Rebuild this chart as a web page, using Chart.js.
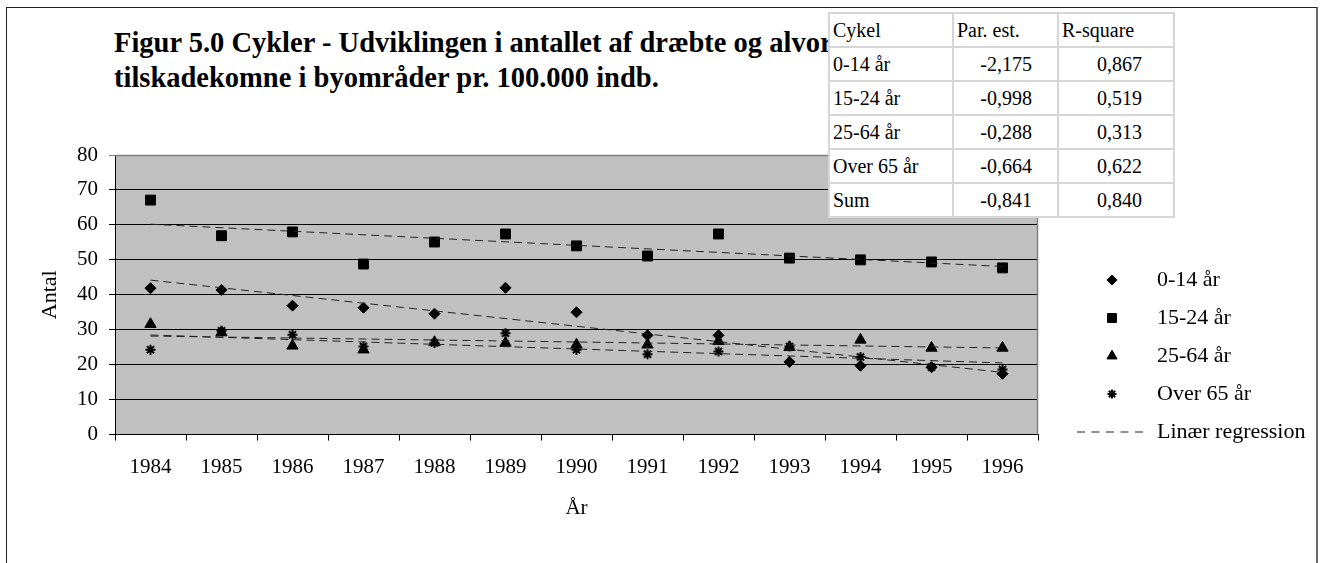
<!DOCTYPE html>
<html>
<head>
<meta charset="utf-8">
<script src="https://cdn.jsdelivr.net/npm/chart.js@4"></script>
<style>
  body { margin: 0; background: #fff; }
  #wrap { position: relative; width: 1322px; height: 563px; overflow: hidden; }
  #frame { position: absolute; left: 6px; top: 7px; width: 1309px; height: 600px;
           border-left: 1px solid #222; border-top: 1px solid #222; border-right: 2px solid #666; }
  #box { position: absolute; left: 0; top: 0; width: 1322px; height: 563px; }
  #title { position: absolute; left: 114px; top: 25px; font: bold 28.5px "Liberation Serif", serif;
           line-height: 35px; white-space: nowrap; }
  #stats { position: absolute; left: 828px; top: 12px; border-collapse: collapse; background: #fff;
           font: 20px "Liberation Serif", serif; z-index: 2; }
  #stats td { border: 2px solid #d6d6d6; height: 32px; padding: 0 3px; }
  #stats td.num { text-align: right; }
</style>
</head>
<body>
<div id="wrap">
  <div id="frame"></div>
  <div id="title">Figur 5.0 Cykler - Udviklingen i antallet af dræbte og alvorligt<br>tilskadekomne i byområder pr. 100.000 indb.</div>
  <div id="box"><canvas id="chart"></canvas></div>
  <table id="stats"></table>
</div>
<script>
// data
var years = ['1984', '1985', '1986', '1987', '1988', '1989', '1990', '1991', '1992', '1993', '1994', '1995', '1996'];
var age0_14 = [41.9, 41.4, 36.9, 36.3, 34.6, 42.0, 35.0, 28.4, 28.4, 20.8, 19.7, 19.3, 17.4];
var age15_24 = [67.1, 56.9, 58.0, 48.8, 55.1, 57.4, 54.0, 51.1, 57.4, 50.5, 50.0, 49.4, 47.7];
var age25_64 = [31.6, 29.2, 25.4, 24.3, 26.4, 26.2, 25.7, 25.7, 26.7, 25.0, 27.1, 24.8, 24.8];
var over65 = [24.3, 29.7, 28.6, 25.2, 26.2, 29.0, 24.3, 23.0, 23.8, 25.2, 22.2, 19.3, 18.6];

// regression lines, start and end value
var trendYears = ['1984', '1996'];
var trend0_14 = [44.2, 17.8];
var trend15_24 = [60.2, 48.1];
var trend25_64 = [28.2, 24.8];
var trendOver65 = [28.5, 20.5];

var seriesNames = ['0-14 år', '15-24 år', '25-64 år', 'Over 65 år'];
var regressionLabel = 'Linær regression';
var yTicks = [0, 10, 20, 30, 40, 50, 60, 70, 80];

// table in the corner
var tableHeader = ['Cykel', 'Par. est.', 'R-square'];
var tableRows = ['0-14 år', '15-24 år', '25-64 år', 'Over 65 år', 'Sum'];
var parEst = ['-2,175', '-0,998', '-0,288', '-0,664', '-0,841'];
var rSquare = ['0,867', '0,519', '0,313', '0,622', '0,840'];

var table = document.getElementById('stats');
var colWidths = [124, 105, 116];
var tr = document.createElement('tr');
tableHeader.forEach(function(h, i) {
  var td = document.createElement('td');
  td.textContent = h;
  td.style.width = (colWidths[i] - 8) + 'px';
  tr.appendChild(td);
});
table.appendChild(tr);
tableRows.forEach(function(name, i) {
  var tr = document.createElement('tr');
  var a = document.createElement('td'); a.textContent = name;
  var b = document.createElement('td'); b.textContent = parEst[i]; b.className = 'num'; b.style.paddingRight = '25px';
  var c = document.createElement('td'); c.textContent = rSquare[i]; c.className = 'num'; c.style.paddingRight = '31px';
  tr.appendChild(a); tr.appendChild(b); tr.appendChild(c);
  table.appendChild(tr);
});

function trendData(vals) {
  return trendYears.map(function(y, i) { return {x: y, y: vals[i]}; });
}

var serif = '"Liberation Serif", "Times New Roman", serif';
var pointStyles = ['rectRot', 'rect', 'triangle', 'star'];
var pointSizes = [5.5, 7, 6.5, 5];
var series = [age0_14, age15_24, age25_64, over65];
var trends = [trend0_14, trend15_24, trend25_64, trendOver65];

var datasets = [];
trends.forEach(function(t) {
  datasets.push({
    type: 'line',
    label: regressionLabel,
    data: trendData(t),
    borderColor: '#222',
    borderWidth: 1,
    borderDash: [8, 5],
    pointRadius: 0,
    fill: false,
    isTrend: true
  });
});
series.forEach(function(s, i) {
  datasets.push({
    type: 'line',
    label: seriesNames[i],
    data: s,
    showLine: false,
    pointStyle: pointStyles[i],
    pointRadius: pointSizes[i],
    pointBackgroundColor: '#000',
    pointBorderColor: '#000',
    pointBorderWidth: i === 3 ? 2 : 1
  });
});

// grey plot area with grey top/right edge
var plotBg = {
  id: 'plotBg',
  beforeDraw: function(chart) {
    var a = chart.chartArea, ctx = chart.ctx;
    ctx.save();
    ctx.fillStyle = '#c0c0c0';
    ctx.fillRect(a.left, a.top, a.right - a.left, a.bottom - a.top);
    ctx.restore();
  },
  afterDatasetsDraw: function(chart) {
    var a = chart.chartArea, ctx = chart.ctx;
    ctx.save();
    ctx.strokeStyle = '#808080';
    ctx.lineWidth = 1.5;
    ctx.beginPath();
    ctx.moveTo(a.left, a.top + 0.5);
    ctx.lineTo(a.right - 0.5, a.top + 0.5);
    ctx.lineTo(a.right - 0.5, a.bottom);
    ctx.stroke();
    ctx.restore();
  }
};

// legend to the right of the plot
var sideLegend = {
  id: 'sideLegend',
  afterDraw: function(chart) {
    var a = chart.chartArea, ctx = chart.ctx;
    var x0 = a.right + 74, y0 = a.top + 125, step = 38;
    ctx.save();
    ctx.font = '22px ' + serif;
    ctx.fillStyle = '#000';
    ctx.textBaseline = 'middle';
    var marks = chart.data.datasets.filter(function(d) { return !d.isTrend; });
    marks.forEach(function(d, i) {
      var y = y0 + i * step;
      ctx.fillStyle = '#000';
      ctx.strokeStyle = '#000';
      ctx.lineWidth = d.pointBorderWidth;
      Chart.helpers.drawPoint(ctx, {pointStyle: d.pointStyle, radius: d.pointRadius * 0.9, rotation: 0, borderWidth: d.pointBorderWidth}, x0, y);
      ctx.fillText(d.label, x0 + 45, y);
    });
    var y = y0 + marks.length * step;
    ctx.strokeStyle = '#222';
    ctx.lineWidth = 1;
    ctx.setLineDash([8, 6.5]);
    ctx.beginPath();
    ctx.moveTo(x0 - 35, y);
    ctx.lineTo(x0 + 31, y);
    ctx.stroke();
    ctx.setLineDash([]);
    ctx.fillText(regressionLabel, x0 + 45, y);
    ctx.restore();
  }
};

new Chart(document.getElementById('chart'), {
  data: { labels: years, datasets: datasets },
  plugins: [plotBg, sideLegend],
  options: {
    responsive: true,
    maintainAspectRatio: false,
    animation: false,
    layout: { padding: { left: 37, right: 284, top: 155, bottom: 38 } },
    plugins: { legend: { display: false }, tooltip: { enabled: false } },
    scales: {
      x: {
        type: 'category',
        offset: true,
        grid: { offset: true, drawOnChartArea: false, color: '#000', tickLength: 6 },
        border: { color: '#000', width: 1 },
        ticks: { color: '#000', padding: 14, font: { family: serif, size: 21 }, maxRotation: 0 },
        title: { display: true, text: 'År', color: '#000', font: { family: serif, size: 21 }, padding: { top: 2, bottom: 4 } }
      },
      y: {
        min: 0,
        max: 80,
        afterBuildTicks: function(scale) { scale.ticks = yTicks.map(function(v) { return {value: v}; }); },
        afterFit: function(scale) { scale.width = 78; },
        grid: {
          color: function(c) { return c.tick && c.tick.value === 80 ? '#808080' : '#000'; },
          tickLength: 6
        },
        border: { color: '#000', width: 1 },
        ticks: { color: '#000', padding: 11, font: { family: serif, size: 21 } },
        title: { display: true, text: 'Antal', color: '#000', font: { family: serif, size: 22 }, padding: { top: 0, bottom: 4 } }
      }
    }
  }
});
</script>
</body>
</html>
